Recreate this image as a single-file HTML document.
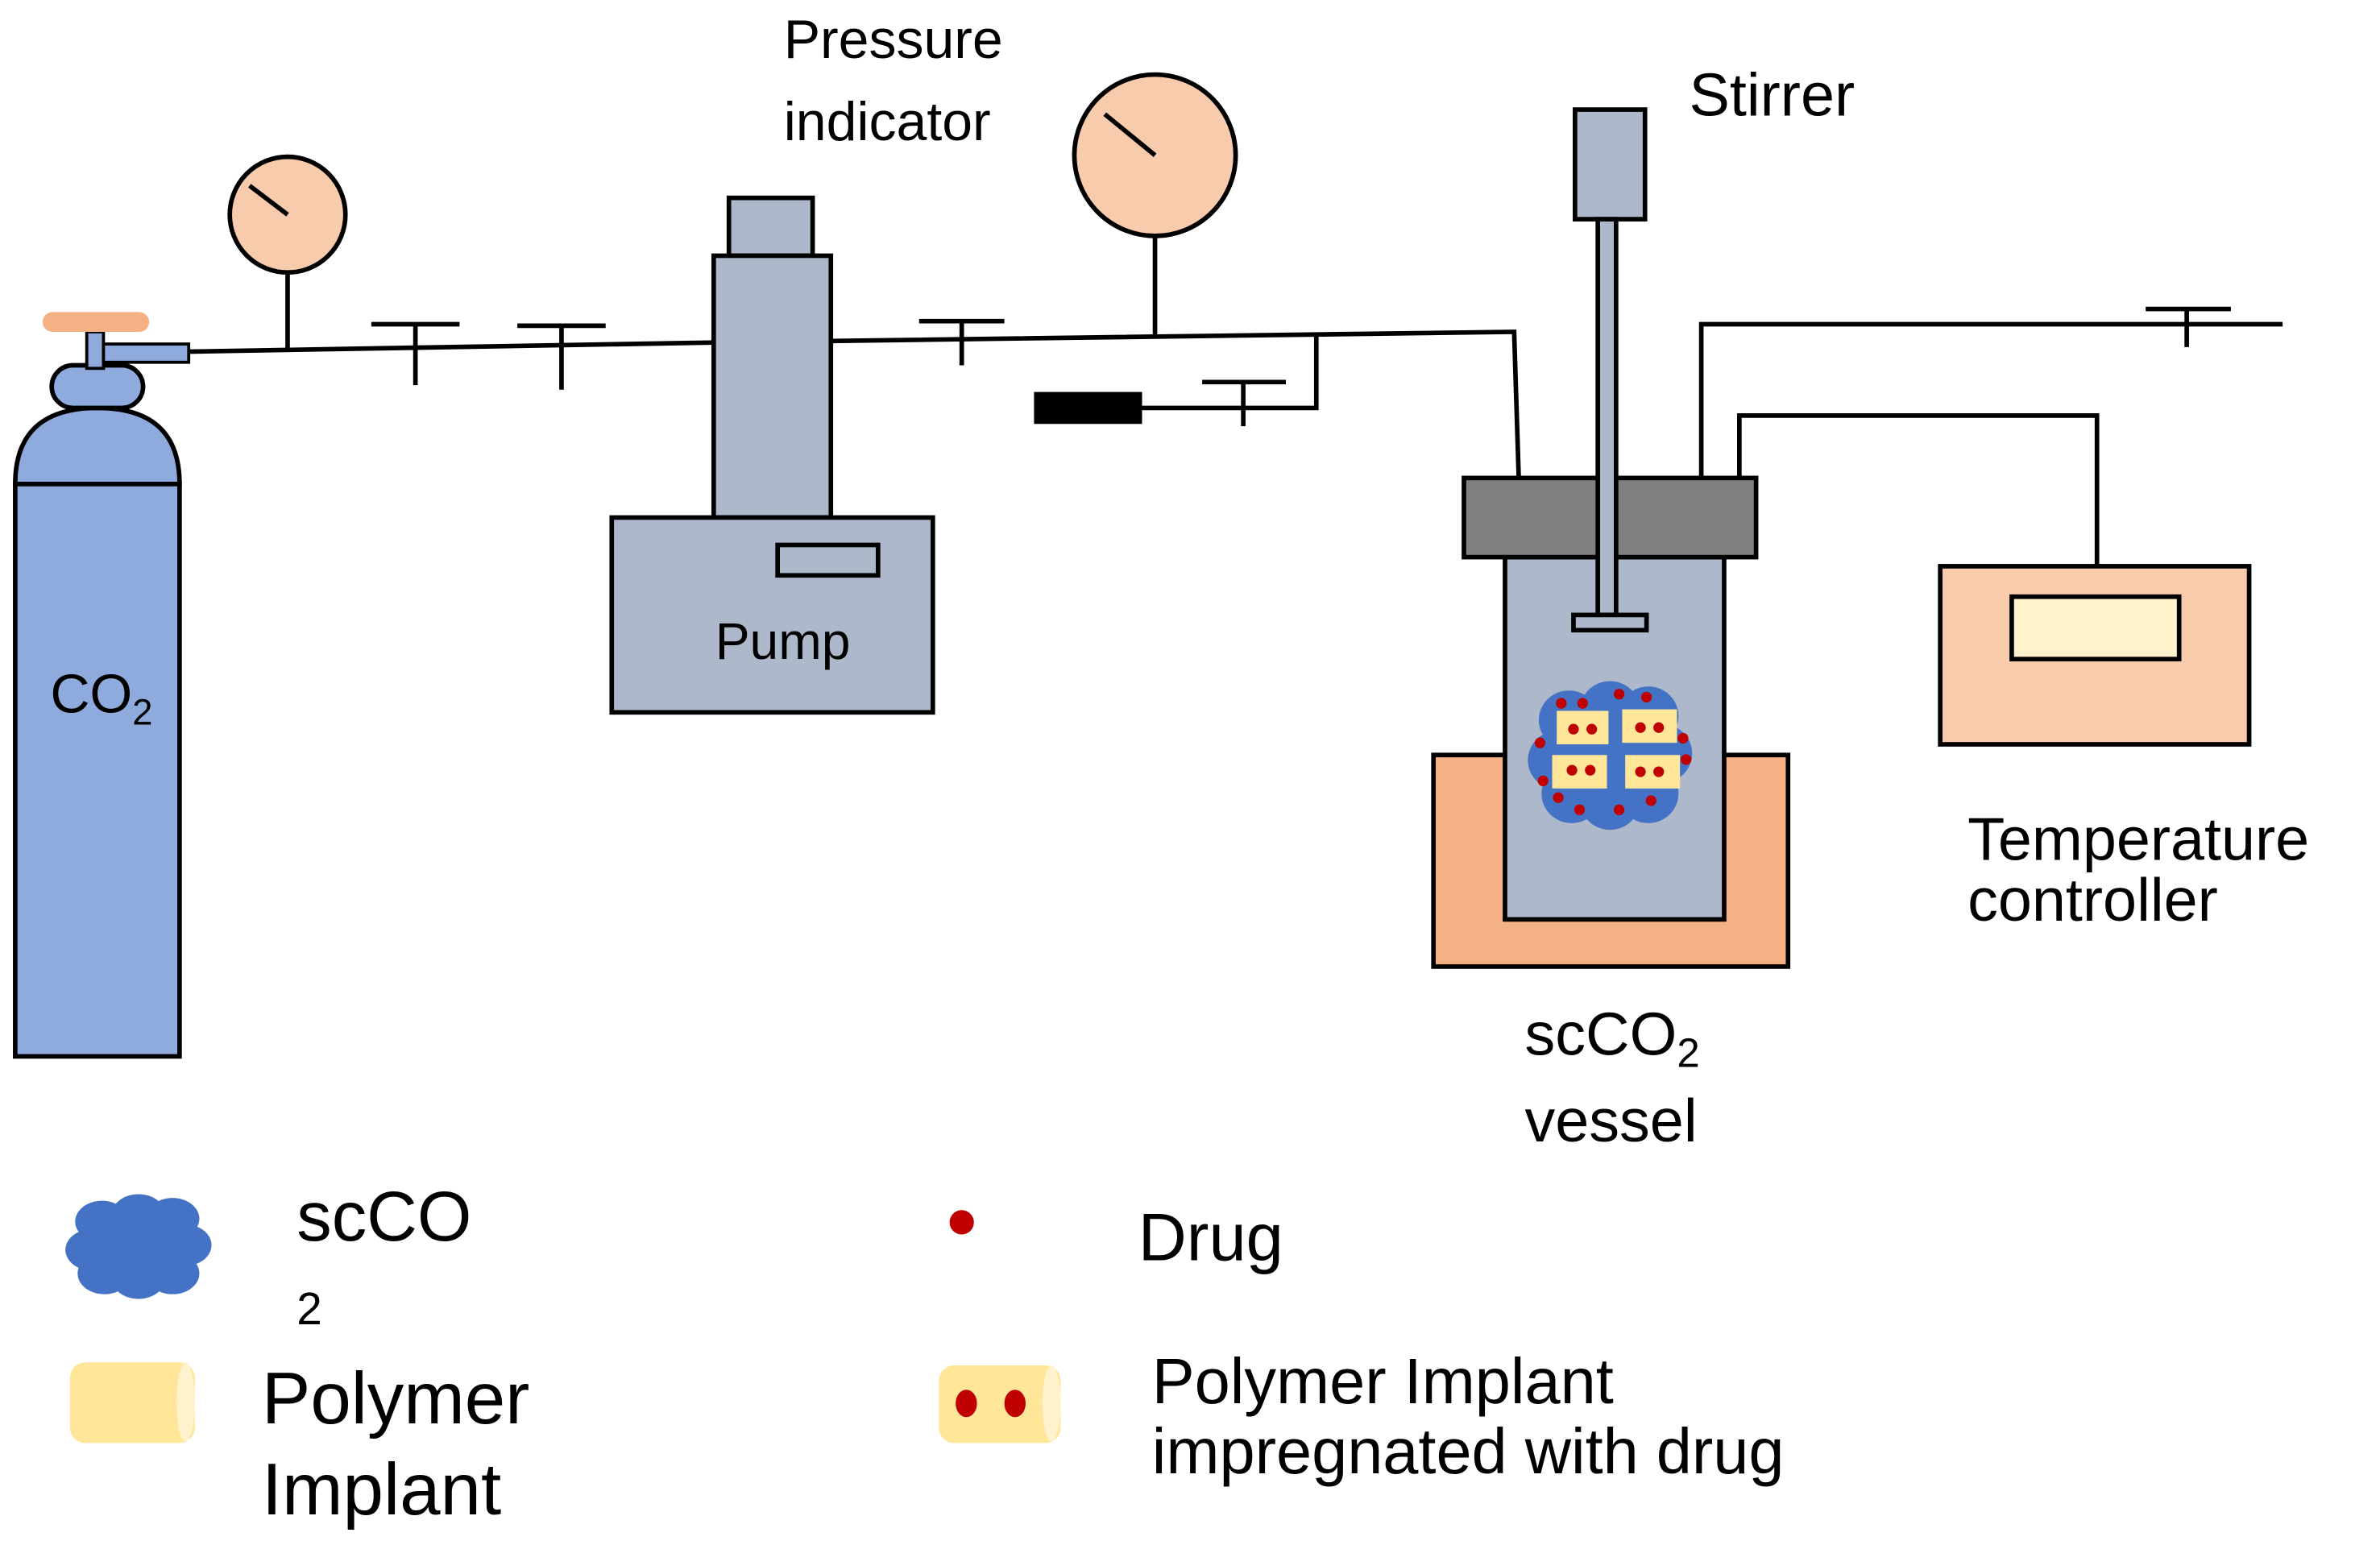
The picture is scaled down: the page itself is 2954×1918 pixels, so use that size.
<!DOCTYPE html>
<html><head><meta charset="utf-8"><style>
html,body{margin:0;padding:0;background:#fff;}
svg{display:block;}
text{font-family:"Liberation Sans",Arial,sans-serif;fill:#000;}
</style></head><body>
<svg width="2954" height="1918" viewBox="0 0 1564 1015" preserveAspectRatio="none" xmlns="http://www.w3.org/2000/svg">
<defs>
<g id="cloud">
<circle cx="-30" cy="-25" r="22"/><circle cx="0" cy="-32" r="22"/><circle cx="28" cy="-28" r="22"/>
<circle cx="-38" cy="5" r="22"/><circle cx="38" cy="0" r="22"/><circle cx="-28" cy="30" r="22"/>
<circle cx="0" cy="35" r="22"/><circle cx="28" cy="30" r="22"/><circle cx="0" cy="0" r="35"/>
</g>
</defs>
<g stroke="#000" stroke-width="3" fill="none">
<path d="M10,318 Q10,268 64,268 Q118,268 118,318 Z" fill="#8faadc"/>
<rect x="10" y="318" width="108" height="376" fill="#8faadc"/>
<rect x="34" y="240" width="60" height="28" rx="14" fill="#8faadc"/>
<rect x="57" y="218" width="11" height="24" fill="#8faadc" stroke-width="2"/>
<rect x="68" y="226" width="56" height="12" fill="#8faadc" stroke-width="2"/>
<rect x="28" y="205" width="70" height="13" rx="6.5" fill="#f4b183" stroke="none"/>
<path d="M124,231 L470,225"/>
<circle cx="189" cy="141" r="38" fill="#f8cbad"/>
<path d="M189,141 L164,122 M189,179 L189,229"/>
<path d="M244,213 L302,213 M273,213 L273,253 M340,214 L398,214 M369,214 L369,256"/>
<rect x="479" y="130" width="55" height="38" fill="#adb9ca"/>
<rect x="469" y="168" width="77" height="172" fill="#adb9ca"/>
<rect x="402" y="340" width="211" height="128" fill="#adb9ca"/>
<rect x="511" y="358" width="66" height="20" fill="#adb9ca"/>
<path d="M546,224 L995,218 L998,313"/>
<path d="M604,211 L660,211 M632,211 L632,240"/>
<circle cx="759" cy="102" r="53" fill="#f8cbad"/>
<path d="M759,102 L726,75 M759,155 L759,220"/>
<path d="M865,221 L865,268 L750,268 M790,251 L845,251 M817,251 L817,280"/>
<rect x="681" y="259" width="68" height="18" fill="#000"/>
<path d="M1118,313 L1118,213 L1500,213 M1410,203 L1466,203 M1437,203 L1437,228"/>
<path d="M1143,313 L1143,273 L1378,273 L1378,372"/>
<rect x="942" y="496" width="233" height="139" fill="#f4b183"/>
<rect x="989" y="366" width="144" height="238" fill="#adb9ca"/>
<rect x="962" y="314" width="192" height="52" fill="#808080"/>
<rect x="1035" y="72" width="46" height="72" fill="#adb9ca"/>
<rect x="1050" y="144" width="12" height="260" fill="#adb9ca"/>
<rect x="1034" y="404" width="48" height="10" fill="#adb9ca"/>
<rect x="1275" y="372" width="203" height="117" fill="#f8cbad"/>
<rect x="1322" y="392" width="110" height="41" fill="#fff2cc"/>
</g>
<g fill="#4472c4"><use href="#cloud" transform="translate(1058,495) scale(0.9,0.88)"/></g>
<g fill="#ffe699">
<rect x="1023" y="467" width="34" height="22"/><rect x="1066" y="466" width="36" height="22"/>
<rect x="1020" y="496" width="36" height="22"/><rect x="1068" y="496" width="36" height="22"/>
</g>
<g fill="#c00000">
<circle cx="1034" cy="479" r="3.5"/><circle cx="1046" cy="479" r="3.5"/><circle cx="1078" cy="478" r="3.5"/><circle cx="1090" cy="478" r="3.5"/>
<circle cx="1033" cy="506" r="3.5"/><circle cx="1045" cy="506" r="3.5"/><circle cx="1078" cy="507" r="3.5"/><circle cx="1090" cy="507" r="3.5"/>
<circle cx="1026" cy="462" r="3.5"/><circle cx="1040" cy="462" r="3.5"/><circle cx="1064" cy="456" r="3.5"/><circle cx="1082" cy="458" r="3.5"/>
<circle cx="1012" cy="488" r="3.5"/><circle cx="1106" cy="485" r="3.5"/><circle cx="1108" cy="499" r="3.5"/>
<circle cx="1014" cy="513" r="3.5"/><circle cx="1024" cy="524" r="3.5"/><circle cx="1038" cy="532" r="3.5"/><circle cx="1064" cy="532" r="3.5"/><circle cx="1085" cy="526" r="3.5"/>
</g>
<text x="33" y="468" font-size="36">CO<tspan font-size="24" dy="8">2</tspan></text>
<text x="515" y="38" font-size="36">Pressure</text>
<text x="515" y="92" font-size="36">indicator</text>
<text x="470" y="433" font-size="34">Pump</text>
<text x="1110" y="76" font-size="40">Stirrer</text>
<text x="1002" y="693" font-size="40">scCO<tspan font-size="27" dy="8">2</tspan></text>
<text x="1002" y="750" font-size="40">vessel</text>
<text x="1293" y="565" font-size="40">Temperature</text>
<text x="1293" y="605" font-size="40">controller</text>
<g fill="#4472c4"><use href="#cloud" transform="translate(91,818) scale(0.8,0.62)"/></g>
<text x="195" y="815" font-size="46">scCO</text>
<text x="195" y="870" font-size="30">2</text>
<circle cx="632" cy="803" r="8" fill="#c00000"/>
<text x="748" y="828" font-size="44">Drug</text>
<rect x="46" y="895" width="82" height="53" rx="10" fill="#ffe699"/>
<ellipse cx="122" cy="921" rx="6" ry="26" fill="#fff2cc"/>
<text x="172" y="935" font-size="48">Polymer</text>
<text x="172" y="995" font-size="48">Implant</text>
<rect x="617" y="897" width="80" height="51" rx="10" fill="#ffe699"/>
<ellipse cx="691" cy="922" rx="6" ry="25" fill="#fff2cc"/>
<ellipse cx="635" cy="922" rx="7" ry="9" fill="#c00000"/>
<ellipse cx="667" cy="922" rx="7" ry="9" fill="#c00000"/>
<text x="757" y="922" font-size="42">Polymer Implant</text>
<text x="757" y="968" font-size="42">impregnated with drug</text>
</svg>
</body></html>
